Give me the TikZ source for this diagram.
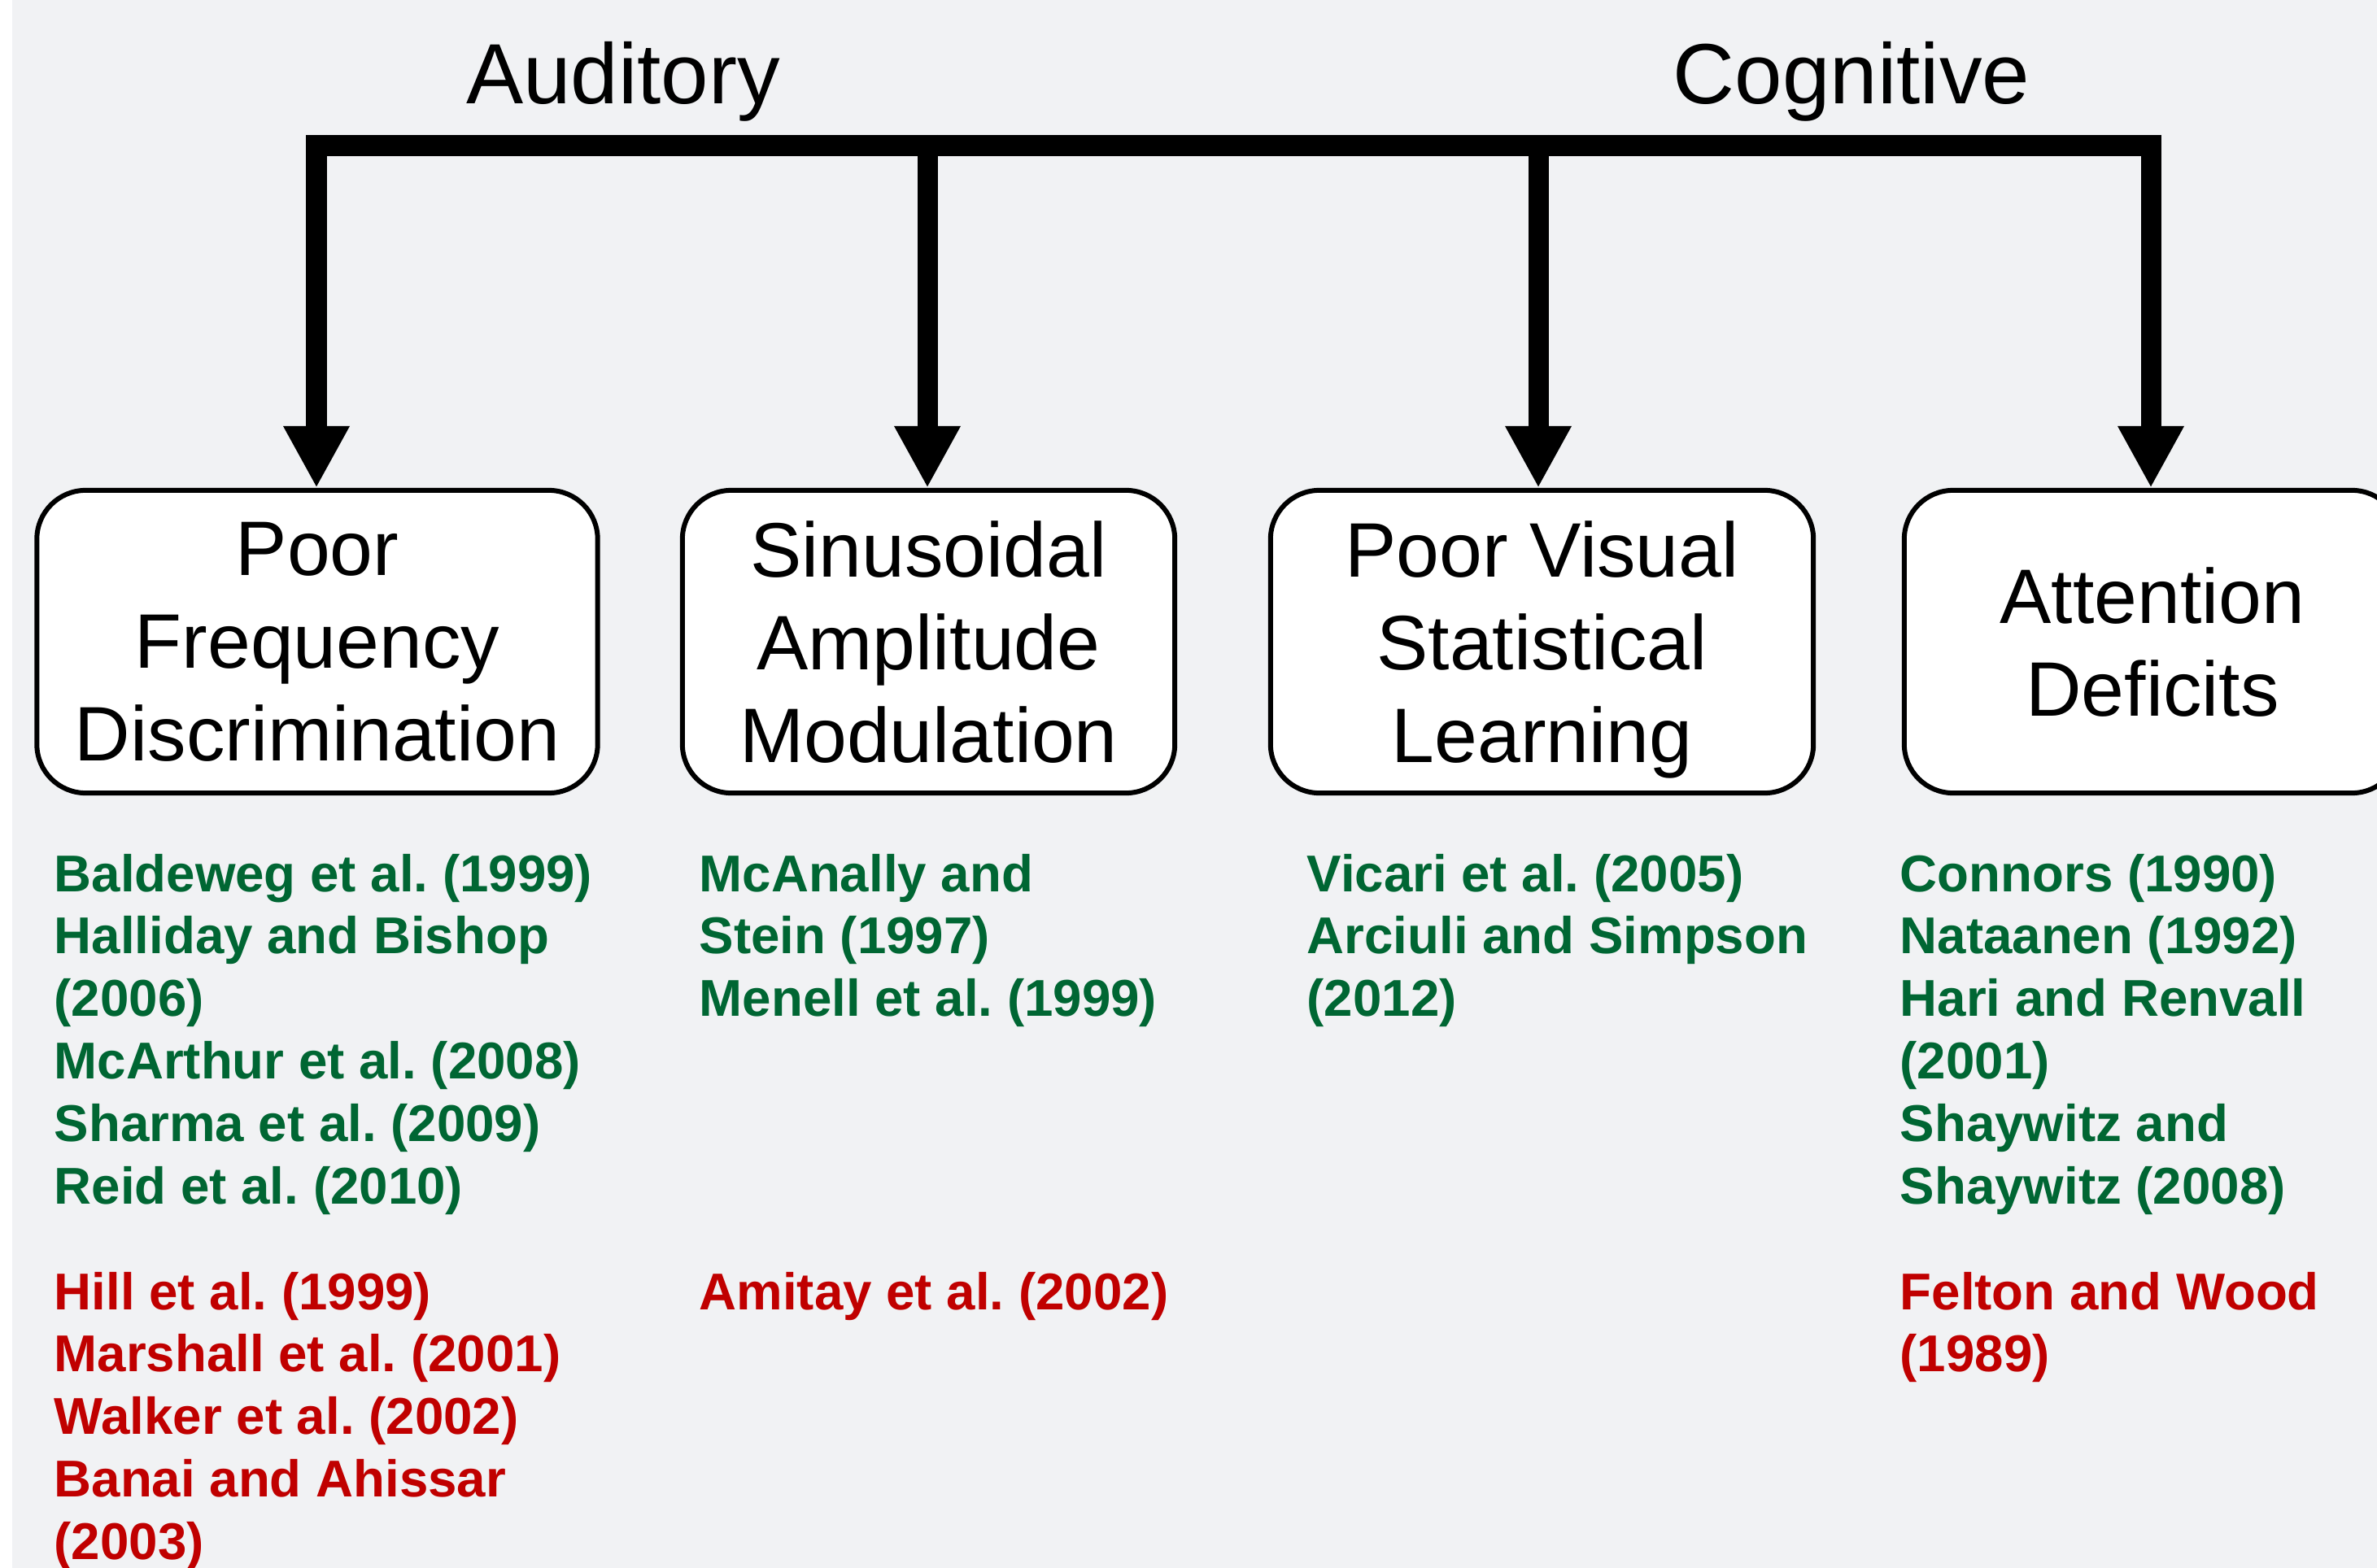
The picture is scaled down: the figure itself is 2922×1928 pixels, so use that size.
\documentclass[tikz,border=0pt]{standalone}
\usepackage{fontspec}
\setmainfont{Liberation Sans}
\usetikzlibrary{arrows.meta}
\frenchspacing
\definecolor{bg}{RGB}{241,242,244}
\definecolor{refgreen}{RGB}{0,102,51}
\definecolor{refred}{RGB}{192,0,0}
\tikzset{
  hbox/.style={draw=black, line width=0.06cm, fill=white, rounded corners=0.6cm, align=center, inner sep=0pt, font=\fontsize{27pt}{32.4pt}\selectfont, text depth=0pt},
  cat/.style={font=\fontsize{29.9pt}{36pt}\selectfont, anchor=base, inner sep=0pt},
  refs/.style={anchor=base west, inner sep=0pt, font=\fontsize{18.1pt}{21.85pt}\selectfont\bfseries},
  conn/.style={line width=0.25cm, -{Triangle[width=0.76cm,length=0.76cm]}},
  bar/.style={line width=0.26cm},
}
\newcommand{\reflist}[1]{\begin{tabular}[t]{@{}l@{}}#1\end{tabular}}
\begin{document}
\begin{tikzpicture}[x=0.01cm,y=-0.01cm]
\useasboundingbox (0,0) rectangle (2922,1928);
\clip (0,0) rectangle (2922,1928);
\fill[bg] (0,0) rectangle (2922,1928);
\fill[white] (0,0) rectangle (15,1928);

\node[cat] (aud) at (766,128) {Auditory};
\node[cat] (cog) at (2276,128) {Cognitive};

\node[hbox, minimum width=6.89cm, minimum height=3.72cm] (b1) at (390,789) {Poor\\Frequency\\Discrimination};
\node[hbox, minimum width=6.05cm, minimum height=3.72cm] (b2) at (1141.5,789) {Sinusoidal\\Amplitude\\Modulation};
\node[hbox, minimum width=6.67cm, minimum height=3.72cm] (b3) at (1895.5,789) {Poor Visual\\Statistical\\Learning};
\node[hbox, minimum width=6.1cm, minimum height=3.72cm] (b4) at (2646,789) {Attention\\Deficits};

\coordinate (bl) at (376,179);
\coordinate (br) at (2656,179);
\draw[bar] (bl) -- (br);
\coordinate (s1) at (389,166);
\coordinate (s2) at (1140,166);
\coordinate (s3) at (1891,166);
\coordinate (s4) at (2644,166);
\draw[conn] (s1) -- (s1 |- b1.north);
\draw[conn] (s2) -- (s2 |- b2.north);
\draw[conn] (s3) -- (s3 |- b3.north);
\draw[conn] (s4) -- (s4 |- b4.north);

\node[refs, text=refgreen] (g1) at (66,1096) {\reflist{Baldeweg et al. (1999)\\Halliday and Bishop\\(2006)\\McArthur et al. (2008)\\Sharma et al. (2009)\\Reid et al. (2010)}};
\node[refs, text=refred] (r1) at (66,1610) {\reflist{Hill et al. (1999)\\Marshall et al. (2001)\\Walker et al. (2002)\\Banai and Ahissar\\(2003)}};
\node[refs, text=refgreen] (g2) at (859,1096) {\reflist{McAnally and\\Stein (1997)\\Menell et al. (1999)}};
\node[refs, text=refred] (r2) at (859,1610) {\reflist{Amitay et al. (2002)}};
\node[refs, text=refgreen] (g3) at (1606,1096) {\reflist{Vicari et al. (2005)\\Arciuli and Simpson\\(2012)}};
\node[refs, text=refgreen] (g4) at (2335,1096) {\reflist{Connors (1990)\\Nataanen (1992)\\Hari and Renvall\\(2001)\\Shaywitz and\\Shaywitz (2008)}};
\node[refs, text=refred] (r4) at (2335,1610) {\reflist{Felton and Wood\\(1989)}};
\end{tikzpicture}
\end{document}
